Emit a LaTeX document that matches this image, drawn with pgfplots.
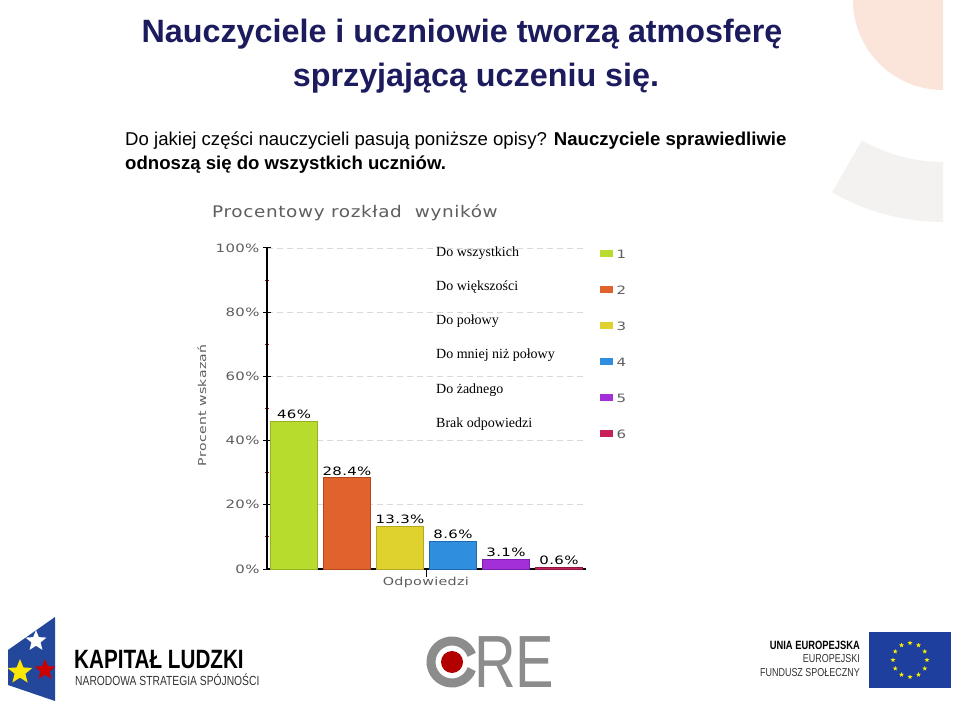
\documentclass[border=0pt]{standalone}
\usepackage{fontspec}
\usepackage{pgfplots}
\pgfplotsset{compat=1.18}
\usetikzlibrary{shapes.geometric}
\setmainfont{Liberation Sans}
\newfontfamily\chartfont{DejaVu Sans}[FakeStretch=1.3, LetterSpace=3]
\newfontfamily\charttitlefont{DejaVu Sans}[FakeStretch=1.15, LetterSpace=4]
\newfontfamily\legfont{Liberation Serif}
\newfontfamily\narrowfont{Liberation Sans}[FakeStretch=0.78]

\definecolor{navy}{HTML}{1B1B5E}
\definecolor{peach}{HTML}{FBE4DA}
\definecolor{paleg}{HTML}{F3F2F0}
\definecolor{tickgray}{HTML}{5E5E5E}
\definecolor{cA}{HTML}{B8DC2E}\definecolor{eA}{HTML}{93B21F}
\definecolor{cB}{HTML}{E0632D}\definecolor{eB}{HTML}{B4471E}
\definecolor{cC}{HTML}{E0D22E}\definecolor{eC}{HTML}{B7A91F}
\definecolor{cD}{HTML}{2F8FDE}\definecolor{eD}{HTML}{1E6AB0}
\definecolor{cE}{HTML}{A32FD8}\definecolor{eE}{HTML}{7A1FAE}
\definecolor{cF}{HTML}{C8205A}\definecolor{eF}{HTML}{8E1840}
\definecolor{eublue}{HTML}{1F3F9F}
\definecolor{oregray}{HTML}{8C8C8C}
\definecolor{klblue}{HTML}{23479B}

\begin{document}
\begin{tikzpicture}[x=1pt,y=1pt]
\useasboundingbox (0,0) rectangle (959,705);
\fill[white] (0,0) rectangle (959,705);

% faint background shapes
\begin{scope}
  \clip (0,0) rectangle (943,705);
  \fill[peach] (943,705) circle (90);
  \fill[paleg] (943,705) ++(240:162) arc[start angle=240,end angle=270,radius=162]
     -- ++(0,-60) arc[start angle=270,end angle=240,radius=222] -- cycle;
\end{scope}

% headings
\node[font=\bfseries\fontsize{32.3}{38}\selectfont, text=navy] at (462,671)
  {Nauczyciele i uczniowie tworzą atmosferę};
\node[font=\bfseries\fontsize{32.3}{38}\selectfont, text=navy] at (476,627)
  {sprzyjającą uczeniu się.};
\node[anchor=base west, inner sep=0pt, font=\fontsize{18.6}{22}\selectfont] at (125,559)
  {Do jakiej części nauczycieli pasują poniższe opisy? \textbf{Nauczyciele sprawiedliwie}};
\node[anchor=base west, inner sep=0pt, font=\bfseries\fontsize{18.6}{22}\selectfont] at (125,535)
  {odnoszą się do wszystkich uczniów.};

% chart title
\node[anchor=west, inner sep=0pt, text=tickgray, font=\charttitlefont\fontsize{16}{18}\selectfont]
  at (212,492) {Procentowy rozkład\ \ wyników};

\begin{axis}[
  at={(267pt,136pt)}, anchor=south west,
  scale only axis, width=319pt, height=321pt,
  xmin=-0.51, xmax=5.51, ymin=0, ymax=100,
  axis x line=bottom, axis y line=left,
  axis line style={-, black, line width=1.3pt},
  ytick={0,20,40,60,80,100},
  yticklabels={0\%,20\%,40\%,60\%,80\%,100\%},
  minor ytick={10,30,50,70,90},
  xtick={2.5}, xticklabels={},
  tick align=center, major tick length=8pt, minor tick length=4pt,
  major tick style={black, line width=1pt},
  minor tick style={red!80!black, line width=1pt},
  ymajorgrids, major grid style={gray!30, dash pattern=on 6pt off 4pt, line width=0.8pt},
  ticklabel style={font=\chartfont\fontsize{11.5}{12}\selectfont, text=tickgray},
  ylabel={Procent wskazań}, xlabel={Odpowiedzi},
  every axis y label/.style={at={(axis description cs:-0.204,0.51)}, rotate=90, anchor=center,
    font=\chartfont\fontsize{10.8}{12}\selectfont, text=tickgray},
  every axis x label/.style={at={(axis description cs:0.498,-0.042)}, anchor=center,
    font=\chartfont\fontsize{11}{12}\selectfont, text=tickgray},
  ybar, bar width=47pt,
  legend image code/.code={\fill[#1, draw=none] (0pt,-3.5pt) rectangle (13pt,3.5pt);},
  legend style={at={(axis description cs:1.044,1.0)}, anchor=north west,
    draw=none, fill=none, inner sep=0pt, row sep=25pt,
    nodes={inner ysep=1pt, inner xsep=3.5pt, text height=9pt, text depth=0pt,
      font=\chartfont\fontsize{11.5}{12}\selectfont, text=tickgray}},
  legend cell align=left,
  point meta=explicit symbolic,
  nodes near coords,
  every node near coord/.append style={font=\chartfont\fontsize{11.5}{12}\selectfont, text=black, inner sep=2pt},
  clip=false,
]
\addplot[bar shift=0pt, fill=cA, draw=eA, line width=0.8pt] coordinates {(0,46) [46\%]};
\addplot[bar shift=0pt, fill=cB, draw=eB, line width=0.8pt] coordinates {(1,28.4) [28.4\%]};
\addplot[bar shift=0pt, fill=cC, draw=eC, line width=0.8pt] coordinates {(2,13.3) [13.3\%]};
\addplot[bar shift=0pt, fill=cD, draw=eD, line width=0.8pt] coordinates {(3,8.6) [8.6\%]};
\addplot[bar shift=0pt, fill=cE, draw=eE, line width=0.8pt] coordinates {(4,3.1) [3.1\%]};
\addplot[bar shift=0pt, fill=cF, draw=eF, line width=0.8pt] coordinates {(5,0.6) [0.6\%]};
\legend{1,2,3,4,5,6}
\end{axis}

% answer descriptions over the chart
\begin{scope}[every node/.style={anchor=west, inner sep=0pt, font=\legfont\fontsize{14}{16}\selectfont}]
  \node at (436,452) {Do wszystkich};
  \node at (436,418) {Do większości};
  \node at (436,384) {Do połowy};
  \node at (436,350) {Do mniej niż połowy};
  \node at (436,315) {Do żadnego};
  \node at (436,281) {Brak odpowiedzi};
\end{scope}

% bottom logos
\fill[klblue] (8,55) -- (55,88) -- (55,4) -- (8,20) -- cycle;
\node[star, star points=5, star point ratio=2.3, fill=white, minimum size=22pt, inner sep=0pt] at (36,64) {};
\node[star, star points=5, star point ratio=2.3, fill=red!80!black, minimum size=22pt, inner sep=0pt] at (45,35) {};
\node[star, star points=5, star point ratio=2.3, fill=yellow!90!orange, minimum size=26pt, inner sep=0pt] at (20,33) {};
\node[anchor=west, inner sep=0pt, font=\narrowfont\bfseries\fontsize{26.5}{27}\selectfont] at (74,45) {KAPITAŁ LUDZKI};
\node[anchor=west, inner sep=0pt, font=\narrowfont\fontsize{13.2}{14}\selectfont, text=black!80] at (75,25) {NARODOWA STRATEGIA SPÓJNOŚCI};

\draw[oregray, line width=9pt] (452,43) ++(20:21) arc[start angle=20,end angle=340,radius=21];
\fill[red!70!black] (452,43) circle (11);
\node[anchor=west, inner sep=0pt, text=oregray, font=\narrowfont\fontsize{74}{74}\selectfont] at (474,43) {RE};

\node[anchor=east, inner sep=0pt, font=\narrowfont\bfseries\fontsize{12}{12}\selectfont] at (860,60) {UNIA EUROPEJSKA};
\node[anchor=east, inner sep=0pt, font=\narrowfont\fontsize{11.5}{12}\selectfont, text=black!80] at (860,46) {EUROPEJSKI};
\node[anchor=east, inner sep=0pt, font=\narrowfont\fontsize{11.5}{12}\selectfont, text=black!80] at (860,32) {FUNDUSZ SPOŁECZNY};
\fill[eublue] (869,17) rectangle (951,73);
\foreach \a in {0,30,...,330}
  \node[star, star points=5, star point ratio=2.4, fill=yellow, minimum size=5pt, inner sep=0pt] at ([shift={(\a:17)}]910,45) {};
\end{tikzpicture}
\end{document}
